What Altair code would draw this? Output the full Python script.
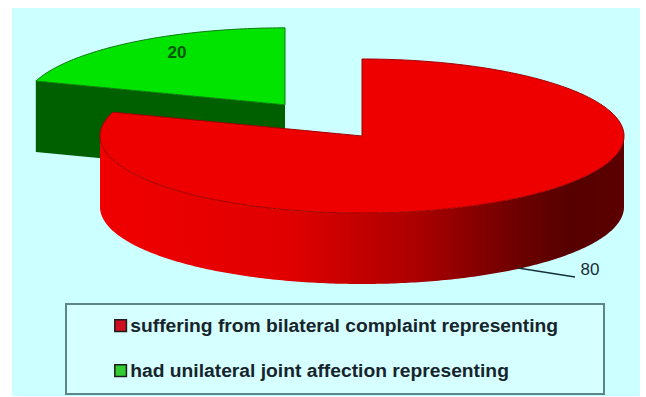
import numpy as np
import pandas as pd
import altair as alt

# Chart content
series = ["suffering from bilateral complaint representing", "had unilateral joint affection representing"]
values = [80, 20]
value_labels = ["80", "20"]
face_colors = ["#ee0000", "#00e400"]
key_colors = ["#cc1020", "#30cc30"]

# Pseudo-3D pie geometry, in the pixel space of the plot area
W, H = 646, 397
CX, CY = 362, 136      # pie centre
RX, RY = 262, 77       # elliptical radii of the tilted disc
DEPTH = 71             # disc thickness
EXPLODE = 0.5          # explosion of the smaller slice along its bisector

x_enc = alt.X("x:Q", scale=alt.Scale(domain=[0, W], nice=False), axis=None)
y_enc = alt.Y("y:Q", scale=alt.Scale(domain=[H, 0], nice=False), axis=None, stack=None)


def ellipse(cx, cy, angle):
    """Point on the disc rim; the angle runs clockwise from twelve o'clock."""
    return cx + RX * np.sin(angle), cy - RY * np.cos(angle)


# Slice angles derived from the values
sweep = 2 * np.pi * values[0] / sum(values)
bisector = sweep + (2 * np.pi - sweep) / 2
GX = CX + EXPLODE * RX * np.sin(bisector)
GY = CY - EXPLODE * RY * np.cos(bisector)


def front_rim(x):
    return CY + RY * np.sqrt(np.clip(1 - ((x - CX) / RX) ** 2, 0, 1))


def red_top():
    """Red face: upper boundary follows rim and cut, lower boundary the front rim."""
    t_left = np.linspace(1.5 * np.pi, sweep, 14)
    xl, yl = ellipse(CX, CY, t_left)
    t_back = np.linspace(0, np.pi / 2, 120)
    xb, yb = ellipse(CX, CY, t_back)
    xb = xb + 0.01   # keeps the vertical cut in order once sorted along x
    xc = np.linspace(xl[-1], CX, 40)[1:]
    yc = yl[-1] + (CY - yl[-1]) * (xc - xl[-1]) / (CX - xl[-1])
    x = np.r_[xl, xc, xb]
    y = np.r_[yl, yc, yb]
    return pd.DataFrame({"x": x, "y": y, "y2": front_rim(np.minimum(x, CX + RX))})


def red_side():
    t = np.linspace(np.pi / 2, 1.5 * np.pi, 240)
    x, y = ellipse(CX, CY, t)
    return pd.DataFrame({"x": x, "y": y, "y2": y + DEPTH})


def green_top():
    t = np.linspace(sweep, 2 * np.pi, 80)
    x, y = ellipse(GX, GY, t)
    chord = y[0] + (GY - y[0]) * (x - x[0]) / (GX - x[0])
    return pd.DataFrame({"x": x, "y": y, "y2": chord})


def green_side():
    x0, y0 = ellipse(GX, GY, sweep)
    return pd.DataFrame({"x": [x0, GX], "y": [y0, GY], "y2": [y0 + DEPTH, GY + DEPTH]})


def area(df, **mark):
    return alt.Chart(df).mark_area(interpolate="linear", **mark).encode(x=x_enc, y=y_enc, y2="y2:Q")


def box(x0, x1, y0, y1, **mark):
    df = pd.DataFrame({"x": [x0], "x2": [x1], "y": [y0], "y2": [y1]})
    return alt.Chart(df).mark_rect(**mark).encode(x=x_enc, x2="x2:Q", y=y_enc, y2="y2:Q")


legend = alt.Legend(
    title=None, orient="none", legendX=111, legendY=316, zindex=1,
    symbolType="square", symbolSize=135, symbolStrokeColor="#1c1c1c", symbolStrokeWidth=1.5,
    labelFont="Liberation Sans", labelFontWeight="bold", labelFontSize=19.25, labelColor="#16242c",
    labelLimit=600, labelOffset=0, rowPadding=25, padding=0, symbolOpacity=1,
)

background = box(12, 640, 8, 396, color="#ccffff")
legend_box = box(66, 604, 304, 394, fill="#d6ffff", stroke="#5c8688", strokeWidth=2)

side_gradient = alt.Gradient(
    gradient="linear", x1=0, x2=1, y1=0, y2=0,
    stops=[
        alt.GradientStop(offset=0.0, color="#f00000"),
        alt.GradientStop(offset=0.36, color="#e00000"),
        alt.GradientStop(offset=0.6, color="#ac0000"),
        alt.GradientStop(offset=0.8, color="#6c0000"),
        alt.GradientStop(offset=0.9, color="#560000"),
        alt.GradientStop(offset=1.0, color="#5c0000"),
    ],
)

green_front = area(green_side(), color="#006000")
green_face = area(green_top(), color=face_colors[1], stroke="#0c7a0c", strokeWidth=1)
red_wall = area(red_side(), color=side_gradient)
red_face = area(red_top(), color=face_colors[0], stroke="#a00000", strokeWidth=1)

# Invisible marks that carry the legend entries
legend_key = alt.Chart(pd.DataFrame({"series": series})).mark_square(opacity=0).encode(
    color=alt.Color("series:N", scale=alt.Scale(domain=series, range=key_colors), legend=legend)
)

leader = alt.Chart(pd.DataFrame({"x": [518, 575], "y": [268, 277]})).mark_line(
    color="#14323c", strokeWidth=1.5
).encode(x=x_enc, y=y_enc)

labels = pd.DataFrame({"x": [590, 177], "y": [270, 53], "t": value_labels, "c": ["#1a2c34", "#00560a"]})
value_80 = alt.Chart(labels[labels.t == "80"]).mark_text(
    font="Liberation Sans", fontSize=17, align="center", baseline="middle"
).encode(x=x_enc, y=y_enc, text="t:N", color=alt.Color("c:N", scale=None, legend=None))
value_20 = alt.Chart(labels[labels.t == "20"]).mark_text(
    font="Liberation Sans", fontSize=17, fontWeight="bold", align="center", baseline="middle"
).encode(x=x_enc, y=y_enc, text="t:N", color=alt.Color("c:N", scale=None, legend=None))

chart = alt.layer(
    background, green_front, green_face, red_wall, red_face, leader, value_80, value_20, legend_box, legend_key
).resolve_scale(color="independent").properties(
    width=W, height=H, padding=0, autosize=alt.AutoSizeParams(type="none"), background="white"
).configure_view(stroke=None)

chart.save("out.html", embed_options={"renderer": "svg", "actions": False})
